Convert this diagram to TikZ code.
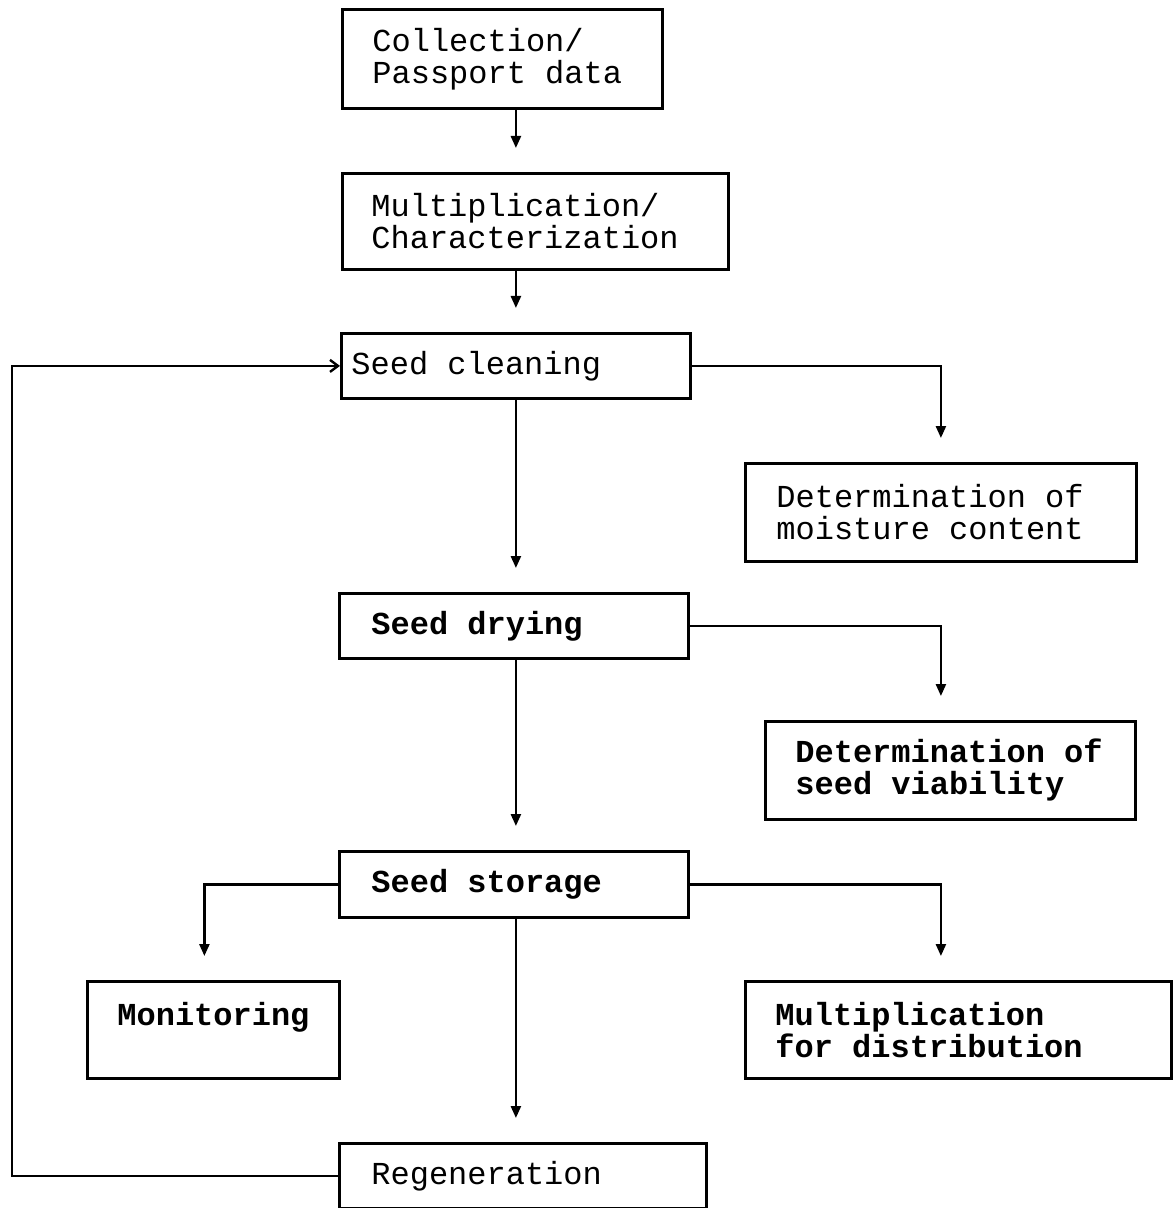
\documentclass[tikz,border=0pt]{standalone}
\usepackage{fontspec}
\setmonofont{Liberation Mono}
\usetikzlibrary{arrows.meta,positioning}

\begin{document}
\begin{tikzpicture}
                [x=0.5pt,y=-0.5pt,
                box/.style={draw,line width=1.4pt,anchor=north west,align=left,
                  font=\ttfamily\fontsize{16}{16}\selectfont,
                  execute at begin node={\spaceskip=9.6pt\relax}},
                bbox/.style={box,font=\ttfamily\bfseries\fontsize{16}{16}\selectfont},
                arr/.style={line width=1.2pt,-{Triangle[length=6pt,width=5pt]},shorten >=12pt},
                back/.style={line width=1.2pt,-{Straight Barb[length=4pt,width=6pt]}}]
                \useasboundingbox (0,0) rectangle (1172,1208);
                \node[box,minimum width=160pt,minimum height=49.5pt,inner xsep=15pt,text width=130pt] (collect) at (341,8) {Collection/\\Passport data};
                \node[box,minimum width=193pt,minimum height=48pt,inner xsep=14.5pt,text width=164pt] (multchar) at (341,172) {Multiplication/\\Characterization};
                \node[box,minimum width=174.5pt,minimum height=32.5pt,inner xsep=5pt,text width=164.5pt] (clean) at (340,332) {Seed cleaning};
                \node[box,minimum width=195.5pt,minimum height=49pt,inner xsep=15.5pt,text width=164.5pt] (moist) at (744,462) {Determination of\\moisture content};
                \node[bbox,minimum width=174.5pt,minimum height=32.5pt,inner xsep=16pt,text width=142.5pt] (dry) at (338,592) {Seed drying};
                \node[bbox,minimum width=185pt,minimum height=49pt,inner xsep=15pt,text width=155pt] (viab) at (764,720) {Determination of\\seed viability};
                \node[bbox,minimum width=174.5pt,minimum height=33pt,inner xsep=16pt,text width=142.5pt] (store) at (338,850) {Seed storage};
                \node[bbox,minimum width=126pt,minimum height=48.5pt,inner xsep=15pt,text width=96pt] (monit) at (86,980) {Monitoring\\\mbox{}};
                \node[bbox,minimum width=213pt,minimum height=48.5pt,inner xsep=15pt,text width=183pt] (distr) at (744,980) {Multiplication\\for distribution};
                \node[box,minimum width=183.5pt,minimum height=32.5pt,inner xsep=16pt,text width=151.5pt] (regen) at (338,1142) {Regeneration};
                \coordinate (loop) at (12,366);
                % main column
                \draw[arr] (collect.south -| clean.north) -- (multchar.north -| clean.north);
                \draw[arr] (multchar.south -| clean.north) -- (clean.north);
                \draw[arr] (clean.south) -- (dry.north -| clean.south);
                \draw[arr] (dry.south -| clean.south) -- (store.north -| clean.south);
                \draw[arr] (store.south -| clean.south) -- (regen.north -| clean.south);
                % side branches
                \draw[arr] (clean.east) -| (moist.north);
                \draw[arr] (dry.east) -| (viab.north -| moist.north);
                \draw[arr] (store.east) -| (distr.north -| moist.north);
                \draw[arr] (store.west) -| ([xshift=-4.5pt]monit.north);
                % back to cleaning
                \draw[back] (regen.west) -| (loop |- clean.west) -- (clean.west);
\end{tikzpicture}
\end{document}
